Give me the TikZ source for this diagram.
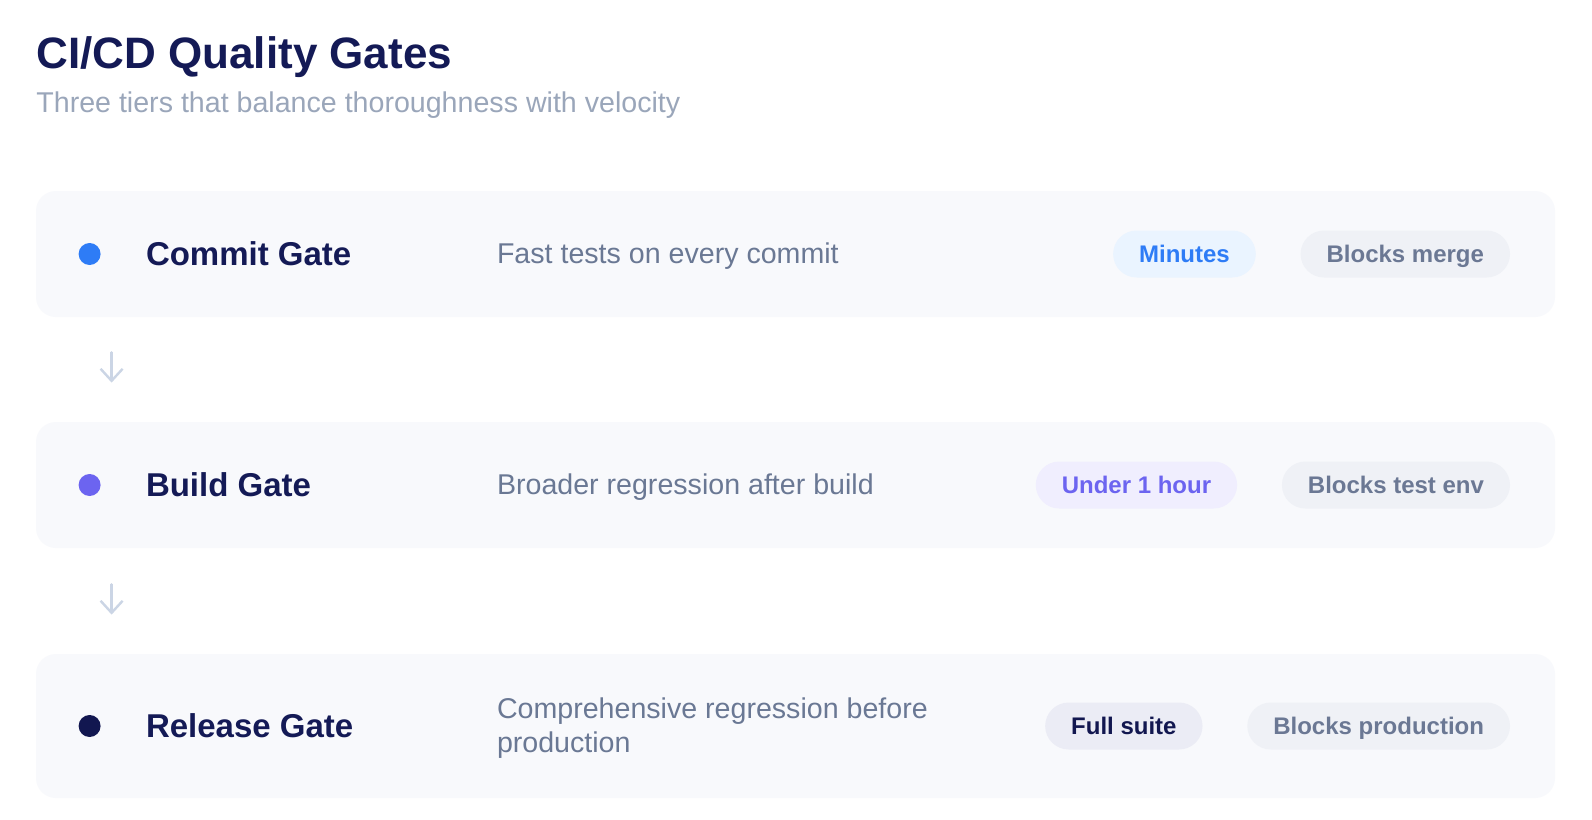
\documentclass[tikz,border=0pt]{standalone}
\usepackage{fontspec}
\setmainfont{Liberation Sans}
\usepackage{tikz}
\usetikzlibrary{calc}
\usetikzlibrary{positioning}
\usetikzlibrary{arrows.meta}
\definecolor{titlenavy}{HTML}{141A56}
\definecolor{subgray}{HTML}{9AA6BA}
\definecolor{descgray}{HTML}{6A7894}
\definecolor{cardbg}{HTML}{F8F9FC}
\definecolor{flowgray}{HTML}{CBD5E5}
\definecolor{commitblue}{HTML}{2E7CF6}
\definecolor{commitfill}{HTML}{EAF4FF}
\definecolor{buildviolet}{HTML}{6C64F0}
\definecolor{buildfill}{HTML}{F0EEFE}
\definecolor{releasenavy}{HTML}{121750}
\definecolor{releasefill}{HTML}{EBECF5}
\definecolor{blockfill}{HTML}{EFF1F6}
\definecolor{blocktext}{HTML}{6B7894}
\tikzstyle{card}=[fill=cardbg,rounded corners=10pt,minimum width=759.5pt,inner sep=0pt]
\tikzstyle{gatedot}=[circle,inner sep=0pt,minimum size=11pt]
\tikzstyle{gatename}=[anchor=base west,inner sep=0pt,text=titlenavy,font=\fontsize{16.5}{19}\selectfont\bfseries]
\tikzstyle{gatedesc}=[inner sep=0pt,text=descgray,font=\fontsize{14.3}{17}\selectfont]
\tikzstyle{pill}=[rounded corners=11.75pt,minimum height=23.5pt,inner xsep=13pt,inner ysep=0pt,text height=8.6pt,text depth=0pt,font=\fontsize{12}{14}\selectfont\bfseries]
\tikzstyle{blockpill}=[pill,fill=blockfill,text=blocktext,anchor=east]
\tikzstyle{flow}=[-{Straight Barb[length=6pt,width=11pt]},line width=1.2pt,color=flowgray,line cap=round,line join=round]

\begin{document}
\begin{tikzpicture}[x=0.5pt,y=-0.5pt,node distance=22pt]
\fill[white] (0,0) rectangle (1592,820);
\useasboundingbox (0,0) rectangle (1592,820);
\node[anchor=base west,inner sep=0pt,text=titlenavy,font=\fontsize{22}{26}\selectfont\bfseries] (title) at (36,68) {CI/CD Quality Gates};
\node[anchor=base west,inner sep=0pt,text=subgray,font=\fontsize{14.3}{17}\selectfont] (subtitle) at (36,112.5) {Three tiers that balance thoroughness with velocity};

\node[card,minimum height=63pt] (commit) at (795.5,254) {};
\node[gatedot,fill=commitblue] (commitdot) at ($(commit.west)+(54,0)$) {};
\node[gatename] (commitname) at ($(commit.west)+(110,11.5)$) {Commit Gate};
\node[gatedesc,anchor=base west] (commitdesc) at ($(commit.west)+(461,9)$) {Fast tests on every commit};
\node[blockpill] (commitblock) at ($(commit.east)+(-45,0)$) {Blocks merge};
\node[pill,fill=commitfill,text=commitblue,left=of commitblock] (committime) {Minutes};

\node[card,minimum height=63pt] (build) at (795.5,485) {};
\node[gatedot,fill=buildviolet] (builddot) at ($(build.west)+(54,0)$) {};
\node[gatename] (buildname) at ($(build.west)+(110,11.5)$) {Build Gate};
\node[gatedesc,anchor=base west] (builddesc) at ($(build.west)+(461,9)$) {Broader regression after build};
\node[blockpill] (buildblock) at ($(build.east)+(-45,0)$) {Blocks test env};
\node[pill,fill=buildfill,text=buildviolet,left=of buildblock] (buildtime) {Under 1 hour};

\node[card,minimum height=72pt] (release) at (795.5,726) {};
\node[gatedot,fill=releasenavy] (releasedot) at ($(release.west)+(54,0)$) {};
\node[gatename] (releasename) at ($(release.west)+(110,11.5)$) {Release Gate};
\node[gatedesc,anchor=west,align=left] (releasedesc) at ($(release.west)+(461,2)$) {Comprehensive regression before\\production};
\node[blockpill] (releaseblock) at ($(release.east)+(-45,0)$) {Blocks production};
\node[pill,fill=releasefill,text=releasenavy,left=of releaseblock] (releasetime) {Full suite};

\draw[flow,shorten <=17.5pt,shorten >=19.5pt] ($(commit.south west)+(76,0)$) -- ($(build.north west)+(76,0)$);
\draw[flow,shorten <=18pt,shorten >=19.5pt] ($(build.south west)+(76,0)$) -- ($(release.north west)+(76,0)$);
\end{tikzpicture}
\end{document}
